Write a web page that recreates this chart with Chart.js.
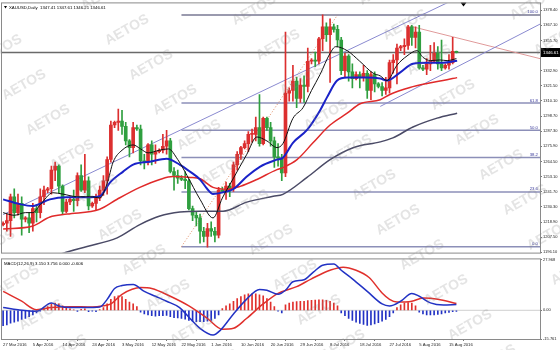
<!DOCTYPE html>
<html lang="en">
<head>
<meta charset="utf-8">
<title>XAUUSD Daily</title>
<script src="https://cdn.jsdelivr.net/npm/chart.js@4.4.1/dist/chart.umd.min.js"></script>
<style>
  body { margin:0; background:#fff; width:560px; height:350px; overflow:hidden; position:relative; }
  canvas { position:absolute; left:0; }
  #main { top:0; }
  #macd { top:256px; }
  #wm { top:0; pointer-events:none; }
</style>
</head>
<body>
<canvas id="main" width="560" height="256"></canvas>
<canvas id="macd" width="560" height="94"></canvas>
<canvas id="wm" width="560" height="350"></canvas>
<script>
// ---- data ----
var dateLabels = ['27 Mar 2016','5 Apr 2016','14 Apr 2016','24 Apr 2016','3 May 2016','12 May 2016',
  '22 May 2016','1 Jun 2016','10 Jun 2016','20 Jun 2016','29 Jun 2016','8 Jul 2016','18 Jul 2016',
  '27 Jul 2016','5 Aug 2016','15 Aug 2016'];
var priceTicks = [1196.10,1207.50,1218.90,1230.30,1241.70,1253.10,1264.50,1275.90,1287.30,1298.70,
  1310.10,1321.50,1332.90,1344.30,1355.70,1367.10,1378.40];
var macdTicks = [-15.761, 0, 27.968];
var macdTickText = ['-15.761', '0.00', '27.968'];

var opens = [1217,1218,1220,1238,1226,1233, 1221,1222,1218,1229,1226,1238, 1243,1244,1258,1261,1246,1227,
  1234,1236,1235,1254,1243,1250, 1231,1233,1237,1243,1250,1266, 1292,1294,1295,1291,1280,1275,
  1290,1289,1265,1264,1277,1270, 1272,1273,1276,1280,1257,1254, 1252,1251,1250,1229,1224,1222,
  1212,1208,1214,1212,1209, 1243,1242,1246,1244,1262,1270, 1275,1278,1285,1285,1290,1278,
  1297,1290,1280,1268,1267,1256, 1316,1318,1325,1312,1322,1321, 1340,1341,1340,1357,1366,1360,
  1366,1364,1356,1333,1344,1332, 1327,1330,1328,1331,1318,1330, 1323,1321,1318,1320,1339,1341,
  1350,1351,1352,1366,1358,1362, 1335,1334,1338,1340,1346,1338, 1335,1337,1339,1347.41];
var highs = [1219,1225,1240,1244,1240,1238, 1223,1226,1233,1232,1244,1246, 1245,1261,1264,1262,1247,1236,
  1238,1243,1256,1262,1270,1253, 1234,1240,1246,1254,1268,1295, 1295,1304,1303,1294,1281,1294,
  1292,1292,1270,1278,1280,1277, 1274,1285,1288,1282,1260,1258, 1254,1257,1251,1231,1227,1225,
  1215,1218,1219,1215,1245, 1245,1249,1248,1264,1272,1276, 1280,1287,1289,1298,1315,1298,
  1298,1294,1283,1278,1270,1362, 1320,1337,1328,1327,1329,1350, 1342,1347,1358,1375,1369,1372,
  1368,1367,1358,1346,1345,1338, 1332,1332,1337,1333,1332,1332, 1324,1324,1328,1341,1345,1353,
  1352,1357,1367,1367,1366,1367, 1337,1342,1352,1354,1351,1356, 1338,1345,1358,1347.61];
var lows = [1216,1212,1208,1222,1224,1209, 1219,1211,1212,1219,1222,1232, 1241,1240,1250,1241,1225,1226,
  1232,1227,1231,1242,1241,1228, 1230,1228,1235,1239,1240,1264, 1290,1288,1285,1277,1268,1271,
  1288,1262,1259,1262,1262,1263, 1271,1271,1270,1256,1243,1248, 1250,1244,1228,1220,1216,1203,
  1204,1200,1208,1204,1207, 1241,1236,1238,1242,1258,1266, 1274,1272,1279,1280,1276,1277,
  1288,1276,1260,1261,1250,1253, 1310,1310,1305,1309,1309,1317, 1338,1336,1338,1348,1355,1324,
  1362,1351,1330,1328,1325,1320, 1326,1320,1325,1312,1311,1317, 1320,1314,1315,1316,1331,1323,
  1348,1345,1349,1352,1350,1334, 1333,1330,1333,1339,1334,1333, 1334,1334,1338,1346.21];
var closes = [1218,1220,1238,1226,1233,1221, 1222,1218,1229,1226,1238,1243, 1244,1258,1261,1246,1227,1234,
  1236,1235,1254,1243,1250,1231, 1233,1237,1243,1250,1266,1292, 1294,1295,1291,1280,1275,1290,
  1289,1265,1264,1277,1270,1272, 1273,1276,1280,1257,1254,1252, 1251,1250,1229,1224,1222,1212,
  1208,1214,1212,1209,1243, 1242,1246,1244,1262,1270,1275, 1278,1285,1285,1290,1278,1297,
  1290,1280,1268,1267,1256,1316, 1318,1325,1312,1322,1321,1340, 1341,1340,1357,1366,1360,1366,
  1364,1356,1333,1344,1332,1327, 1330,1328,1331,1318,1330,1323, 1321,1318,1320,1339,1341,1350,
  1351,1352,1366,1358,1362,1335, 1334,1338,1340,1346,1338,1335, 1337,1339,1347.41,1346.61];

// moving averages, [bar, price]
var maBlack = [[0,1226],[3,1224],[6,1226],[8,1226],[10,1232],[13.4,1241],[16,1240],[20,1238],[24,1238],
  [26,1237],[28,1248],[29.6,1264],[32,1273],[35,1277],[37,1274],[39,1271],[42,1273],[44.5,1274],[47,1266],
  [49.5,1254],[53,1236],[56.5,1222],[59,1237],[62,1252],[65.6,1270],[68.3,1283],[71,1280],[73.7,1275],
  [75.3,1278],[78,1297],[80.7,1305],[83,1318],[85.3,1330],[88,1346],[89.5,1351],[92.6,1348],[96,1340],
  [99.6,1331],[101.5,1329],[103.3,1325.5],[106,1337],[108.7,1344],[111.4,1348],[113,1343],[115,1340.5],
  [117.6,1341],[119.5,1340.5],[122,1342]];
var maBlue = [[0,1236],[4.5,1232.4],[8,1231],[12.6,1236],[17,1237.6],[22.6,1237.6],[26,1238.3],[28.8,1248.8],
  [32.3,1256.9],[35,1262.2],[39.5,1264.4],[44,1266.6],[47.6,1262],[50.3,1256.9],[53,1251],[54.9,1244],
  [56.5,1240],[59.2,1241.3],[61.9,1243.6],[65.6,1253.2],[69.2,1260.7],[73.7,1265.9],[75.3,1267.4],
  [78,1278.6],[81.8,1288.3],[85.3,1303],[87.2,1313],[89.9,1325.5],[92.6,1327.7],[98,1327.7],[101.5,1327],
  [103.3,1325.5],[106.8,1331.5],[110.3,1338.2],[114.1,1338.9],[118.4,1338.9],[122.2,1340.4]];
var maRed = [[0,1213.7],[8,1216],[12.6,1222.7],[17.2,1224.9],[26,1228.6],[30.7,1236.1],[36.8,1245],
  [42.2,1251],[45.7,1253.2],[50.3,1252.5],[53,1251.5],[56.5,1245],[60.3,1243.6],[63.8,1245.8],[68.3,1251],
  [73.7,1258.4],[75.3,1259.9],[79.1,1265.9],[83.4,1278.6],[88,1292],[92.6,1300.9],[96.1,1308],[101.5,1311],
  [104.1,1315],[109.5,1320.3],[114.1,1323.3],[118.4,1325.5],[122.2,1327.7]];
var maGrey = [[14,1193],[16.2,1195.5],[22.6,1200.5],[30.7,1207],[36.8,1217],[42.2,1223.4],[47.6,1226.4],
  [53,1227.1],[59.2,1227.1],[65.6,1233.9],[72.7,1238.3],[75.3,1239.8],[81.8,1252.5],[88,1265.9],
  [94.2,1274.9],[101.5,1279.3],[104.9,1282.3],[110.3,1290.5],[116.8,1297.2],[122.2,1300.9]];

// fibonacci and drawn trend lines
var fibNames = ['0.0','23.6','38.2','50.0','61.8','100.0'];
var fibPrices = [1200.4,1241.6,1267.5,1288.0,1308.6,1374.9];
var fibAnchors = [[48,1200.4],[90,1374.9]];
var upperChannel = [[0,1224.5],[121,1386]];
var lowerChannel = [[101.5,1306],[144.5,1368]];
var redTrend = [[109.5,1366.5],[144.5,1342]];

// MACD(12,26,9)
var macdHist = [-8.5,-8,-7,-6.5,-6,-5,-4.5,-3.5,-2.5,-1.5,-0.5,
  1,2,3.5,4,3.5,2.5,1.5,
  0.8,0.3,-0.6,0.5,0.8,-0.8,-0.5,-0.7,0.4,
  1.5,3.5,6,7.5,8,7.5,6,4.5,3.5,2,
  -1,-2,-2.5,-3,-3.2,-3,-3,-2.8,-3.5,-4,-4.2,-4.5,-4.8,-5.5,-6,-6.2,-6.3,-6.3,-6,-5.5,-4.5,-2.5,
  1,2.5,3.5,5,6.5,7.5,8.5,9,9,9,8.5,8,6.5,4.5,2,-0.5,-1.5,
  3,4,4.5,4.8,5,5,5.3,5.5,5.6,5.8,5.8,5.5,5,4,2.5,
  -1.5,-3,-4.5,-5.5,-6.5,-7.2,-7.8,-8.3,-8,-7.5,-6.8,-6,-5,-3.5,-1.5,
  1.5,3,4,4.2,4,2.5,
  -1,-2,-2.5,-2.5,-2.5,-2.3,-2,-1.5,-1.2,-0.8,-0.606];
var macdMain = [[0,1.5],[4,0.3],[9,-0.5],[13,4],[15,2.4],[18,1.5],[22,1.5],[26,1.8],[28,6],[30,12],[32,13.6],
  [35,14.2],[38,10.4],[41,7.7],[44,5],[47.5,1.5],[50,-3.8],[53,-9.9],[56.5,-13.6],[58.5,-10.9],[62,-2],
  [65.5,6],[69,11.5],[71,11],[74,8.8],[76,11],[78,15.7],[81,16.8],[83.5,21],[86,24.8],[89,25.5],[91,22],
  [94,17.3],[98,10.4],[102,3.5],[104,2.4],[107,5],[110,9.3],[112,7.7],[115,4.1],[118.5,2.9],[122,3.15]];
var macdSignal = [[0,10.4],[5,5],[9,0.3],[13,1.5],[18,2],[24,1.8],[27,2.5],[29,3.5],[32,8.8],[37,12.5],
  [40,12],[45,7.7],[50,2.4],[55,-4.5],[59,-10.4],[62,-9.9],[65.5,-4.5],[70,3.5],[74,9.3],[79,13],[83,17.3],
  [88,22],[91.5,23.7],[95,22],[98.5,18],[102,9.5],[104,6],[106,4.5],[110,5],[113,6.7],[117,6.1],[122,3.756]];

var symbolTitle = 'XAUUSD,Daily  1347.41 1347.61 1346.21 1346.61';
var macdTitle = 'MACD(12,26,9) 3.150 3.756 0.000 -0.606';

// ---- styling ----
var UP = '#dc2f2f', DOWN = '#2f9f3f';
var FONT = '"Liberation Sans", Arial, sans-serif';
var X_MIN = -0.3, X_MAX = 144.5;

function pts(arr) { return arr.map(function (p) { return {x: p[0], y: p[1]}; }); }
function line(data, color, width, order, extra) {
  var d = {type: 'line', data: pts(data), borderColor: color, borderWidth: width, pointRadius: 0,
    fill: false, order: order, cubicInterpolationMode: 'monotone'};
  return Object.assign(d, extra || {});
}

var idx = opens.map(function (v, i) { return i; });
var candleColors = idx.map(function (i) { return closes[i] >= opens[i] ? UP : DOWN; });

var mainSets = [];
fibPrices.forEach(function (p, i) {
  mainSets.push(line([[fibAnchors[0][0], p], [X_MAX, p]], i == 5 ? '#9a9aae' : '#8c8fb8', i == 5 ? 2 : 1.5, 20));
});
mainSets.push(line([[X_MIN, closes[closes.length - 1]], [X_MAX, closes[closes.length - 1]]], '#6a6a6a', 1.5, 19));
mainSets.push(line(fibAnchors, '#e08a60', 1, 18, {borderDash: [1, 2]}));
mainSets.push(line(upperChannel, '#8a8ad0', 1, 17));
mainSets.push(line(lowerChannel, '#8a8ad0', 1, 17));
mainSets.push(line(redTrend, '#e09a9a', 1, 17));
mainSets.push({type: 'bar', data: idx.map(function (i) { return {x: i, y: [lows[i], highs[i]]}; }),
  backgroundColor: candleColors, barThickness: 1, grouped: false, order: 10, minBarLength: 1});
mainSets.push({type: 'bar', data: idx.map(function (i) { return {x: i, y: [opens[i], closes[i]]}; }),
  backgroundColor: candleColors, barThickness: 3, grouped: false, order: 9, minBarLength: 1});
mainSets.push(line(maGrey, '#4a4a66', 1.5, 4));
mainSets.push(line(maRed, '#e02a2a', 1.5, 3));
mainSets.push(line(maBlue, '#1a22c8', 2, 2));
mainSets.push(line(maBlack, '#111111', 1, 1));

var mainDecor = {
  id: 'mainDecor',
  afterDatasetsDraw: function (chart) {
    var ctx = chart.ctx, a = chart.chartArea, y = chart.scales.y;
    ctx.save();
    ctx.font = '4.3px ' + FONT;
    ctx.fillStyle = '#3b3b9c';
    ctx.textAlign = 'right';
    ctx.textBaseline = 'bottom';
    fibPrices.forEach(function (p, i) { ctx.fillText(fibNames[i], a.right - 2, y.getPixelForValue(p) - 0.5); });
    ctx.fillStyle = '#000';
    ctx.textAlign = 'left';
    ctx.textBaseline = 'middle';
    ctx.font = '4.3px ' + FONT;
    ctx.fillText(symbolTitle, a.left + 7, a.top + 4);
    ctx.beginPath();
    ctx.moveTo(a.left + 2, a.top + 2.5); ctx.lineTo(a.left + 5, a.top + 2.5); ctx.lineTo(a.left + 3.5, a.top + 5);
    ctx.fill();
    // chart shift marker
    ctx.beginPath();
    ctx.moveTo(460.5, a.top - 1); ctx.lineTo(466.5, a.top - 1); ctx.lineTo(463.5, a.top + 3);
    ctx.fill();
    ctx.strokeStyle = '#8a8a8a';
    ctx.lineWidth = 1;
    ctx.strokeRect(a.left - 0.5, a.top - 0.5, a.right - a.left + 1, a.bottom - a.top + 1);
    ctx.restore();
  },
  afterDraw: function (chart) {
    var ctx = chart.ctx, a = chart.chartArea;
    var last = closes[closes.length - 1];
    var py = chart.scales.y.getPixelForValue(last);
    ctx.save();
    ctx.fillStyle = '#000';
    ctx.fillRect(a.right + 1, py - 4.5, 19, 9);
    ctx.fillStyle = '#fff';
    ctx.font = '4.3px ' + FONT;
    ctx.textBaseline = 'middle';
    ctx.fillText(last.toFixed(2), a.right + 3, py);
    ctx.restore();
  }
};

new Chart(document.getElementById('main'), {
  type: 'bar',
  data: {datasets: mainSets},
  options: {
    responsive: false, animation: false, events: [],
    layout: {padding: {top: 2, bottom: 2, left: 2, right: 0}},
    plugins: {legend: {display: false}, tooltip: {enabled: false}},
    scales: {
      x: {type: 'linear', min: X_MIN, max: X_MAX, offset: false, display: false},
      y: {
        position: 'right', min: 1195.9, max: 1383.6,
        afterBuildTicks: function (s) { s.ticks = priceTicks.map(function (v) { return {value: v}; }); },
        afterFit: function (s) { s.width = 20; },
        grid: {drawOnChartArea: false, tickLength: 2, color: '#777'},
        border: {color: '#8a8a8a'},
        ticks: {font: {size: 4, family: FONT}, color: '#222', padding: 1,
          callback: function (v) { return v.toFixed(2); }}
      }
    }
  },
  plugins: [mainDecor]
});

// ---- MACD panel ----
var macdDecor = {
  id: 'macdDecor',
  afterDatasetsDraw: function (chart) {
    var ctx = chart.ctx, a = chart.chartArea;
    ctx.save();
    ctx.fillStyle = '#000';
    ctx.font = '4.3px ' + FONT;
    ctx.textBaseline = 'middle';
    ctx.fillText(macdTitle, a.left + 2, a.top + 4);
    ctx.strokeStyle = '#8a8a8a';
    ctx.lineWidth = 1;
    ctx.strokeRect(a.left - 0.5, a.top - 0.5, a.right - a.left + 1, a.bottom - a.top + 1);
    ctx.restore();
  }
};

new Chart(document.getElementById('macd'), {
  type: 'bar',
  data: {datasets: [
    line([[X_MIN, 0], [X_MAX, 0]], '#cfcfcf', 1, 10),
    {type: 'bar', data: idx.map(function (i) { return {x: i, y: macdHist[i]}; }),
      backgroundColor: macdHist.map(function (v) { return v >= 0 ? '#e0302c' : '#2232c4'; }),
      barThickness: 1, order: 5},
    line(macdSignal, '#e0302c', 1.5, 2),
    line(macdMain, '#2232c4', 1.5, 1)
  ]},
  options: {
    responsive: false, animation: false, events: [],
    layout: {padding: {top: 1, bottom: 0, left: 2, right: 0}},
    plugins: {legend: {display: false}, tooltip: {enabled: false}},
    scales: {
      x: {
        type: 'linear', min: X_MIN, max: X_MAX, offset: false,
        afterBuildTicks: function (s) { s.ticks = dateLabels.map(function (d, i) { return {value: i * 8}; }); },
        afterFit: function (s) { s.height = 11; },
        grid: {drawOnChartArea: false, tickLength: 2, color: '#777'},
        border: {color: '#8a8a8a'},
        ticks: {font: {size: 4.2, family: FONT}, color: '#222', padding: 1, align: 'start',
          autoSkip: false, maxRotation: 0,
          callback: function (v) { return dateLabels[Math.round(v / 8)]; }}
      },
      y: {
        position: 'right', min: -15.761, max: 27.968,
        afterBuildTicks: function (s) { s.ticks = macdTicks.map(function (v) { return {value: v}; }); },
        afterFit: function (s) { s.width = 20; },
        grid: {drawOnChartArea: false, tickLength: 2, color: '#777'},
        border: {color: '#8a8a8a'},
        ticks: {font: {size: 4, family: FONT}, color: '#222', padding: 1,
          callback: function (v, i) { return macdTickText[i]; }}
      }
    }
  },
  plugins: [macdDecor]
});

// ---- AETOS watermark ----
var wm = document.getElementById('wm').getContext('2d');
wm.font = 'bold 14px ' + FONT;
wm.fillStyle = 'rgba(130,130,130,0.22)';
wm.textAlign = 'center';
wm.textBaseline = 'middle';
for (var i = -8; i <= 14; i++) {
  for (var j = -8; j <= 8; j++) {
    var cx = 127 + 24 * i - 103 * j, cy = 30 + 35 * i + 55 * j;
    if (cx < -40 || cx > 600 || cy < -30 || cy > 380) continue;
    wm.save();
    wm.translate(cx, cy);
    wm.rotate(-0.52);
    wm.fillText('AETOS', 0, 0);
    wm.restore();
  }
}
</script>
</body>
</html>
